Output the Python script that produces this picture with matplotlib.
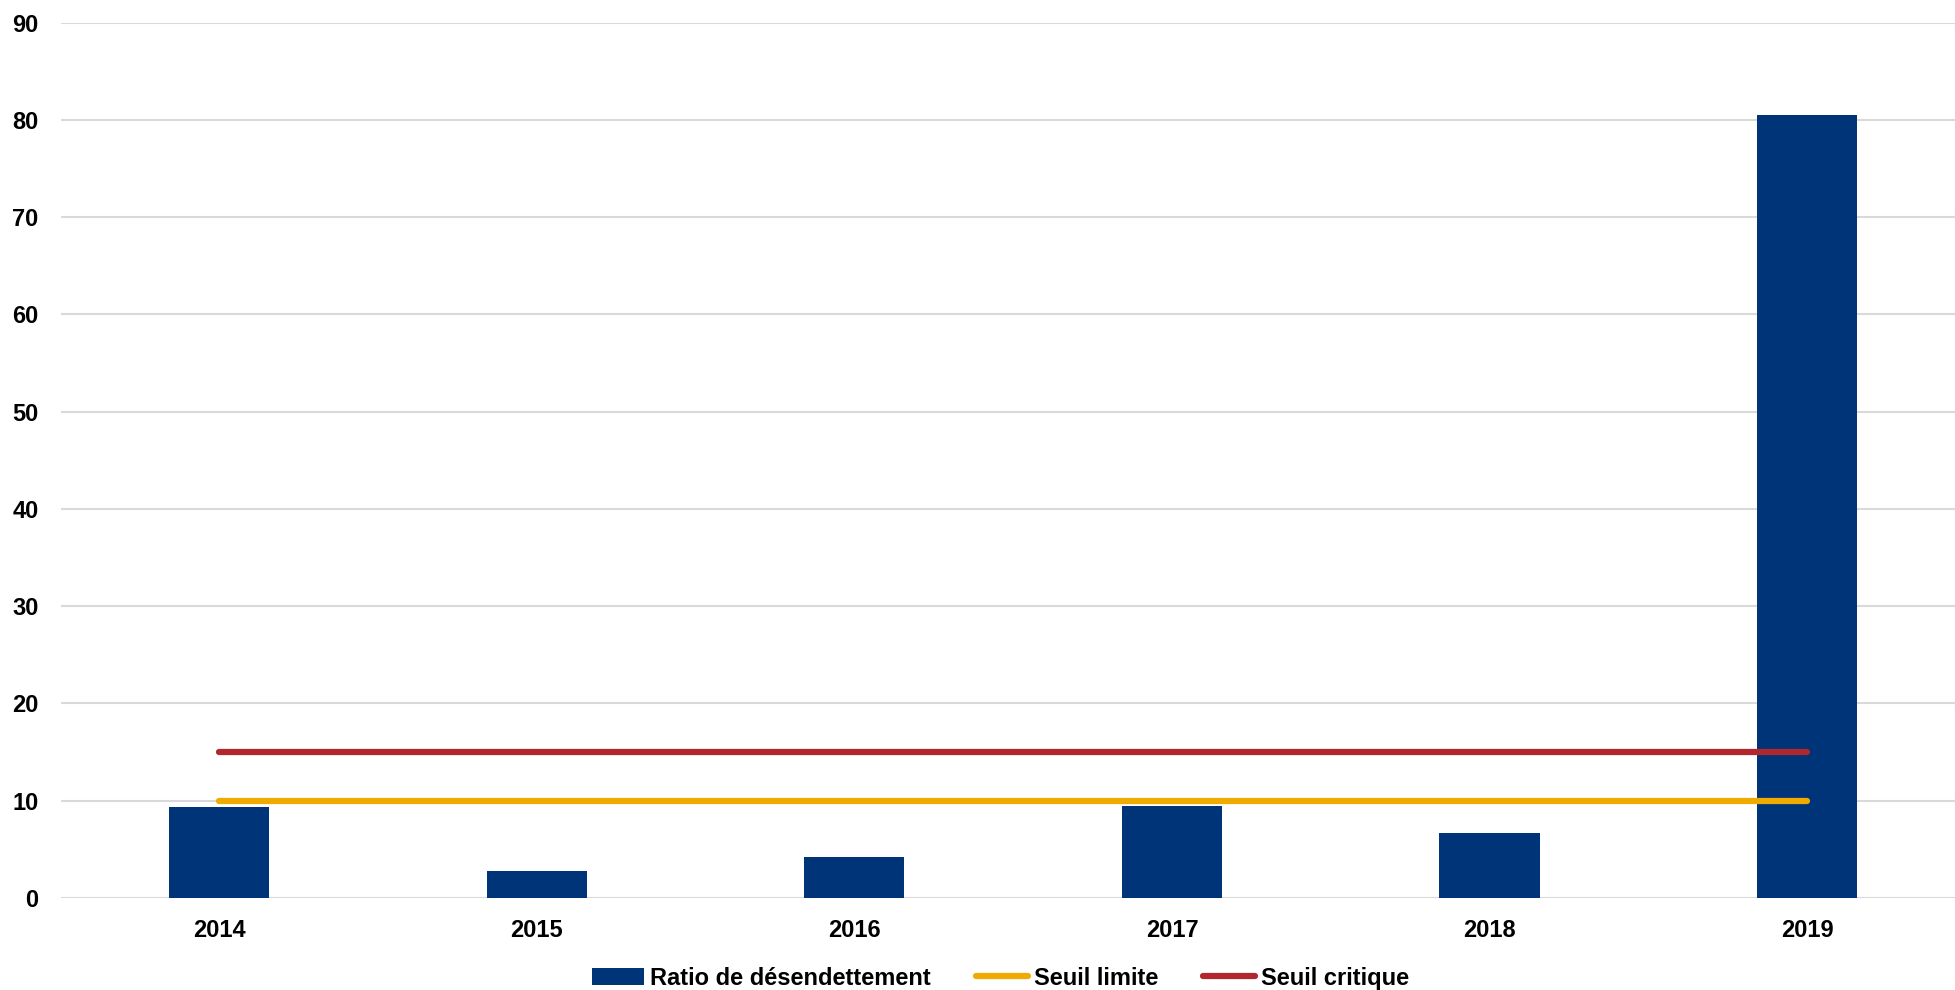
import matplotlib

matplotlib.use("Agg")

import matplotlib.pyplot as plt

years = ["2014", "2015", "2016", "2017", "2018", "2019"]
ratio = [9.35, 2.8, 4.25, 9.5, 6.65, 80.5]
seuil_limite = [10, 10, 10, 10, 10, 10]
seuil_critique = [15, 15, 15, 15, 15, 15]
y_ticks = [0, 10, 20, 30, 40, 50, 60, 70, 80, 90]

plt.rcParams["font.family"] = ["Liberation Sans", "DejaVu Sans"]
plt.rcParams["font.weight"] = "bold"

fig = plt.figure(figsize=(19.56, 9.9), dpi=100)
ax = fig.add_axes([0.031, 0.093, 0.974, 0.884])

x = list(range(len(years)))
bars = ax.bar(x, ratio, width=0.315, color="#003478", zorder=2,
              label="Ratio de désendettement")
(l_limite,) = ax.plot(x, seuil_limite, color="#F0AB00", linewidth=4.5,
                      solid_capstyle="round", zorder=3, label="Seuil limite")
(l_critique,) = ax.plot(x, seuil_critique, color="#B0282E", linewidth=4.5,
                        solid_capstyle="round", zorder=3, label="Seuil critique")

ax.set_xlim(-0.5, len(years) - 0.5)
ax.set_ylim(0, 90)
ax.set_xticks(x)
ax.set_xticklabels(years)
ax.set_yticks(y_ticks)

ax.grid(axis="y", color="#D9D9D9", linewidth=1.5, zorder=0)
ax.set_axisbelow(True)
for side in ("top", "right", "left", "bottom"):
    ax.spines[side].set_visible(False)
ax.tick_params(axis="both", length=0, labelsize=17)
ax.tick_params(axis="x", pad=15)
ax.tick_params(axis="y", pad=16)
for lbl in ax.get_xticklabels() + ax.get_yticklabels():
    lbl.set_fontweight("bold")

# legend below the year labels
leg = fig.legend([bars, l_limite, l_critique],
                 ["Ratio de désendettement", "Seuil limite", "Seuil critique"],
                 loc="center", bbox_to_anchor=(0.5115, 0.012), ncol=3,
                 frameon=False, fontsize=17, handlelength=2.2,
                 handletextpad=0.25, columnspacing=1.9)
for t in leg.get_texts():
    t.set_fontweight("bold")

fig.savefig("out.png", dpi=100, facecolor="white")
plt.close(fig)
